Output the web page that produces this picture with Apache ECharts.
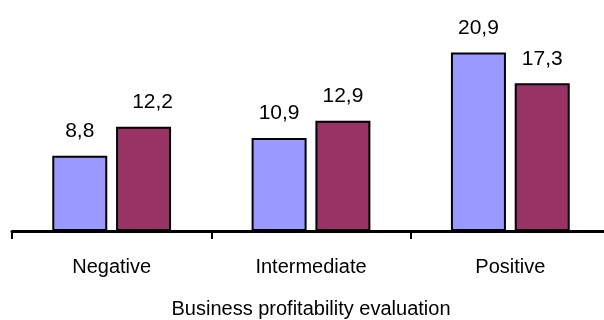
<!DOCTYPE html>
<html>
<head>
<meta charset="utf-8">
<style>
  html, body { margin: 0; padding: 0; background: #ffffff; }
  #chart { width: 604px; height: 320px; }
</style>
<script src="https://cdn.jsdelivr.net/npm/echarts@6/dist/echarts.min.js"></script>
</head>
<body>
<div id="chart"></div>
<script>
// Profitability groups along the x axis
const categories = ['Negative', 'Intermediate', 'Positive'];
// Two series per group (shown as comma-decimal labels)
const seriesA = [8.8, 10.9, 20.9];
const seriesB = [12.2, 12.9, 17.3];
const axisTitle = 'Business profitability evaluation';

const fontFamily = '"Liberation Sans", Arial, sans-serif';
const fmt = p => String(p.value).replace('.', ',');

const barLabel = {
  show: true,
  position: 'top',
  distance: 14,
  color: '#000',
  fontFamily: fontFamily,
  fontSize: 21,
  formatter: fmt
};

// The first maroon label sits slightly right of its bar
const seriesBData = seriesB.map((v, i) =>
  i === 0 ? { value: v, label: { offset: [9, 0] } } : v
);

const chart = echarts.init(document.getElementById('chart'), null, { renderer: 'canvas' });
chart.setOption({
  animation: false,
  backgroundColor: '#ffffff',
  grid: {
    left: 12, width: 598, top: 9, bottom: 89,
    containLabel: false,
    outerBoundsMode: 'none'
  },
  xAxis: {
    type: 'category',
    data: categories,
    boundaryGap: true,
    name: axisTitle,
    nameLocation: 'middle',
    nameGap: 68,
    nameTextStyle: { color: '#000', fontFamily: fontFamily, fontSize: 20 },
    axisLine: { show: true, lineStyle: { color: '#000', width: 3 } },
    axisTick: { show: true, inside: false, length: 8, lineStyle: { color: '#000', width: 2 } },
    axisLabel: { color: '#000', fontFamily: fontFamily, fontSize: 20, margin: 26 }
  },
  yAxis: {
    type: 'value',
    min: 0,
    max: 26,
    show: false,
    splitLine: { show: false }
  },
  series: [
    {
      name: 'A',
      type: 'bar',
      data: seriesA,
      barWidth: 55,
      barGap: '16%',
      itemStyle: { color: '#9999FF', borderColor: '#000', borderWidth: 2 },
      label: barLabel
    },
    {
      name: 'B',
      type: 'bar',
      data: seriesBData,
      barWidth: 55,
      barGap: '16%',
      itemStyle: { color: '#993366', borderColor: '#000', borderWidth: 2 },
      label: barLabel
    }
  ]
});
</script>
</body>
</html>
